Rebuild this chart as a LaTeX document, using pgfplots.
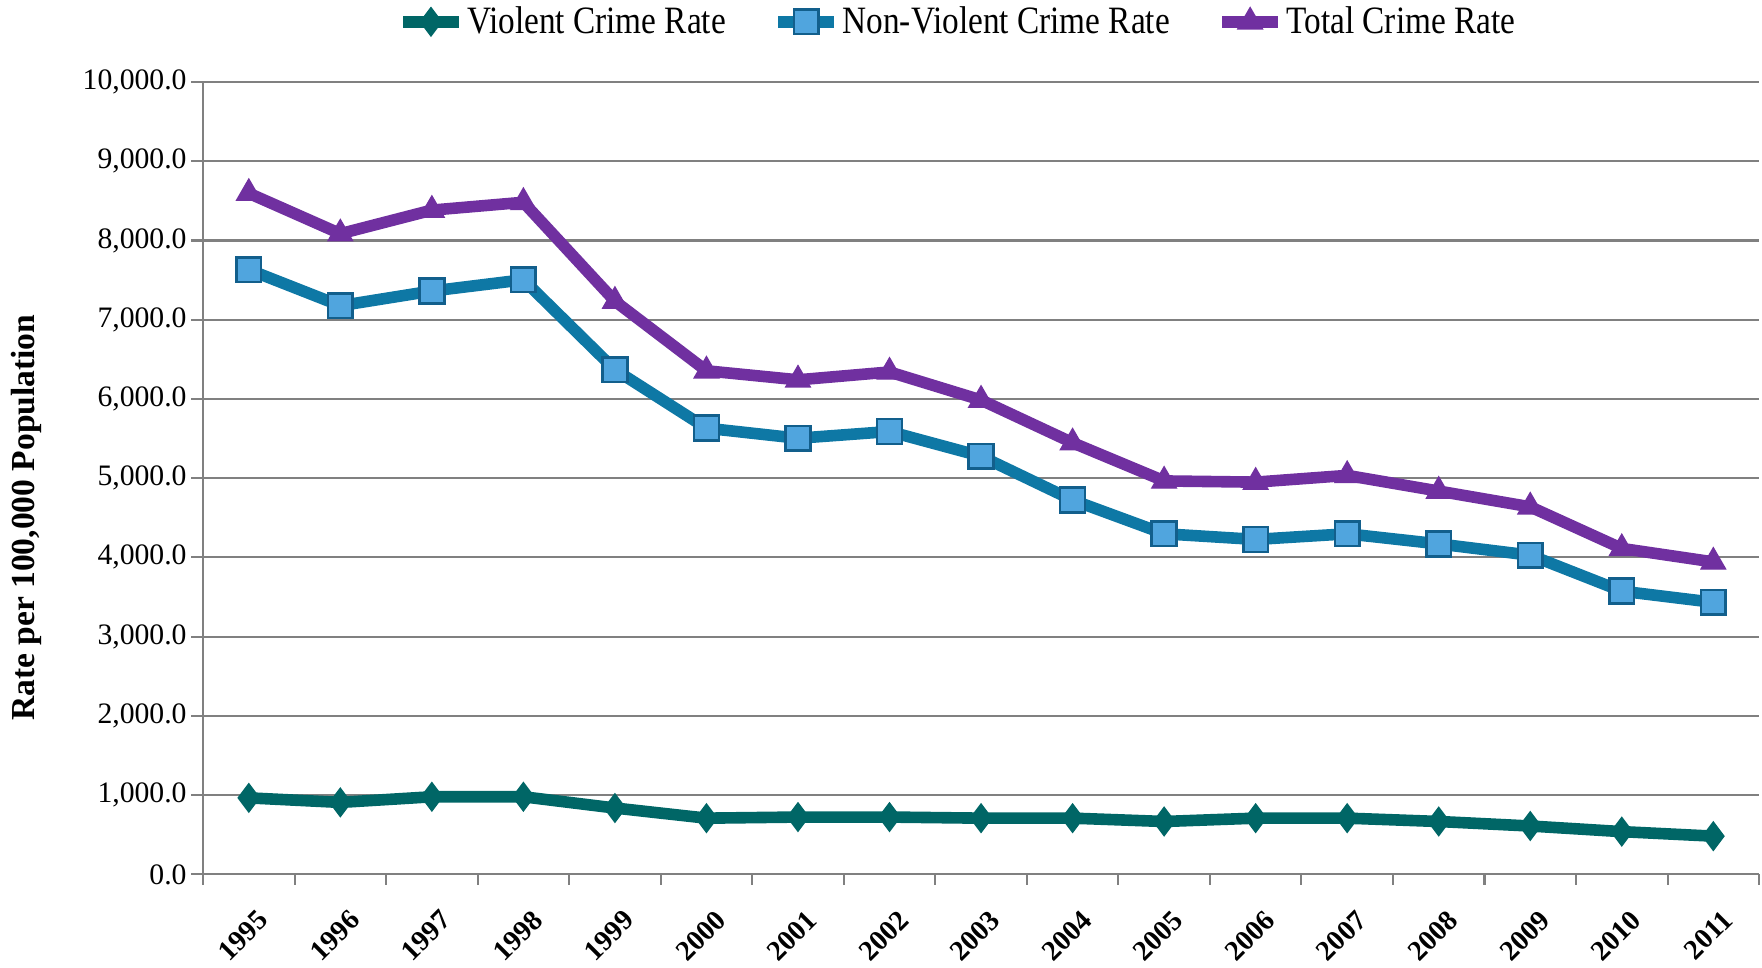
\documentclass[border=0pt]{standalone}
\usepackage{fontspec}
\setmainfont{Liberation Serif}
\newfontfamily\legfont{Liberation Serif}[FakeStretch=0.86]
\usepackage{pgfplots}
\usepackage{pgfplotstable}
\pgfplotsset{compat=1.18}
\usetikzlibrary{calc}
\definecolor{violent}{RGB}{0,102,102}
\definecolor{nvline}{RGB}{14,120,165}
\definecolor{nvfill}{RGB}{80,165,222}
\definecolor{nvdraw}{RGB}{18,95,140}
\definecolor{total}{RGB}{112,48,160}
\definecolor{gridgray}{RGB}{128,128,128}

% rates per 100,000 population, 1995 (idx 0) to 2011 (idx 16)
\pgfplotstableread{
idx violent nonviolent total
0  965 7631 8596
1  908 7177 8085
2  979 7362 8383
3  979 7504 8482
4  837 6369 7234
5  709 5631 6355
6  723 5504 6241
7  723 5589 6340
8  709 5277 5986
9  709 4723 5447
10 667 4298 4965
11 709 4227 4950
12 709 4298 5035
13 667 4170 4837
14 610 4028 4638
15 539 3574 4113
16 482 3433 3943
}\crimedata

\begin{document}
\begin{tikzpicture}
\begin{axis}[
    scale only axis,
    width=21.19cm,
    height=10.79cm,
    xmin=-0.5, xmax=16.5,
    ymin=0, ymax=10000,
    ytick={0,1000,...,10000},
    scaled y ticks=false,
    xtick={0,...,16},
    xticklabels={1995,1996,1997,1998,1999,2000,2001,2002,2003,2004,2005,2006,2007,2008,2009,2010,2011},
    minor xtick={-0.5,0.5,...,16.5},
    axis x line*=bottom,
    axis y line*=left,
    axis line style={gridgray, line width=0.8pt},
    ymajorgrids,
    grid style={gridgray, line width=0.8pt},
    tick align=outside,
    major tick length=0.16cm,
    minor tick length=0.14cm,
    major x tick style={draw=none},
    minor tick style={gridgray, line width=0.8pt},
    ytick style={gridgray, line width=0.8pt},
    yticklabel style={
        font=\fontsize{11.5}{13}\selectfont,
        xshift=0.06cm,
        /pgf/number format/fixed,
        /pgf/number format/fixed zerofill,
        /pgf/number format/precision=1,
        /pgf/number format/1000 sep={,},
        /pgf/number format/assume math mode=true
    },
    xticklabel style={
        rotate=45, anchor=east,
        font=\bfseries\fontsize{11}{13}\selectfont,
        xshift=-0.02cm, yshift=-0.42cm
    },
    ylabel={Rate per 100,000 Population},
    ylabel style={
        at={(axis description cs:0,0.45)}, anchor=center,
        yshift=2.4cm,
        font=\bfseries\fontsize{13}{15}\selectfont
    },
    legend columns=3,
    legend cell align=left,
    legend style={
        at={(0.5,1)}, anchor=center,
        xshift=-0.32cm, yshift=0.82cm,
        draw=none, fill=none,
        font=\legfont\fontsize{15}{17}\selectfont,
        nodes={inner xsep=1pt},
        /tikz/every even column/.append style={column sep=0.6cm}
    },
    legend image code/.code={
        \draw[mark repeat=2,mark phase=2,#1]
            plot coordinates {(0cm,0cm) (0.38cm,0cm) (0.76cm,0cm)};
    },
]
\coordinate (bl) at (rel axis cs:0,0);
\coordinate (tr) at (rel axis cs:1,1);

\addplot[violent, line width=4.5pt, mark=diamond*, mark size=5.5pt,
    mark options={solid, fill=violent, draw=violent, line width=0.5pt}]
    table[x=idx, y=violent] {\crimedata};
\addlegendentry{Violent Crime Rate}

\addplot[nvline, line width=4.5pt, mark=square*, mark size=4.8pt,
    mark options={solid, fill=nvfill, draw=nvdraw, line width=1pt}]
    table[x=idx, y=nonviolent] {\crimedata};
\addlegendentry{Non-Violent Crime Rate}

\addplot[total, line width=4.5pt, mark=triangle*, mark size=5.5pt,
    mark options={solid, fill=total, draw=total, line width=0.5pt}]
    table[x=idx, y=total] {\crimedata};
\addlegendentry{Total Crime Rate}
\end{axis}
\pgfresetboundingbox
\path ($(bl)+(-2.765cm,-1.267cm)$) rectangle ($(tr)+(0.04cm,1.117cm)$);
\end{tikzpicture}
\end{document}
